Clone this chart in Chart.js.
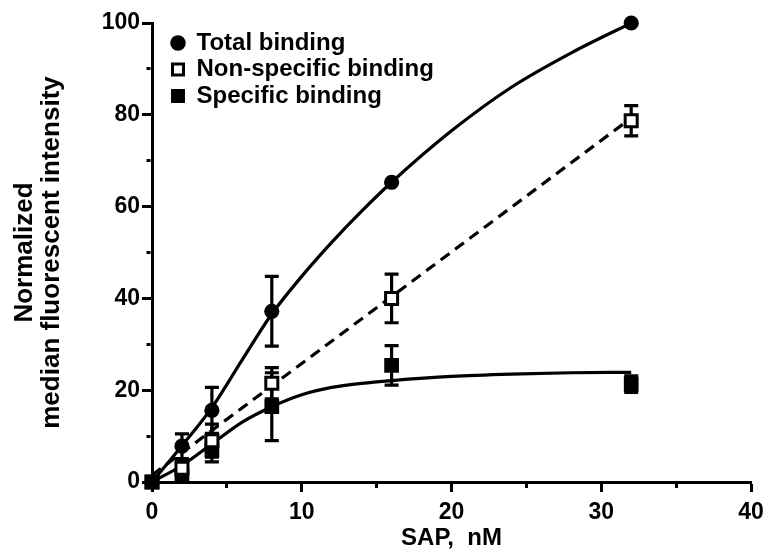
<!DOCTYPE html>
<html>
<head>
<meta charset="utf-8">
<script src="https://cdn.jsdelivr.net/npm/chart.js@4.4.1/dist/chart.umd.min.js"></script>
<style>
  html, body { margin: 0; padding: 0; background: #fff; }
  #wrap { width: 765px; height: 553px; }
</style>
</head>
<body>
<div id="wrap"><canvas id="bindingChart" width="765" height="553"></canvas></div>
<script>
// SAP concentration (nM)
const sapConc = [0, 2, 4, 8, 16, 32];

// measured points (normalized MFI) and their error bars
const totalBinding = [0, 7.8, 15.6, 37.2, 65.3, 100];
const totalErr     = [0, 2.7, 5.0, 7.6, 0, 0];
const nonSpecific  = [0, 3.0, 9.0, 21.5, 40.0, 78.7];
const nonSpecErr   = [0, 1.5, 3.6, 3.4, 5.3, 3.3];
const specific     = [0, 1.5, 7.0, 16.4, 25.4, 21.3];
const specificErr  = [0, 1.0, 2.6, 7.4, 4.3, 1.8];

// fitted curves
const fitX        = [0, 2, 4, 6, 8, 10, 12, 14, 16, 20, 24, 28, 32];
const totalFit    = [0, 7.9, 16.2, 26.5, 36.6, 44.8, 52.2, 59.0, 65.3, 76.5, 86.0, 93.5, 100];
const specificFit = [0, 3.6, 8.3, 13.0, 16.4, 19.0, 20.6, 21.5, 22.1, 23.0, 23.5, 23.8, 23.9];
const nonSpecFitX = [0, 32];
const nonSpecFit  = [1.5, 79.3];

const seriesNames = ['Total binding', 'Non-specific binding', 'Specific binding'];
const xTicks = [0, 10, 20, 30, 40];
const yTicks = [0, 20, 40, 60, 80, 100];

const toPoints = (xs, ys) => xs.map((x, i) => ({x: x, y: ys[i]}));

Chart.defaults.font.family = "'Liberation Sans', Arial, sans-serif";
Chart.defaults.font.weight = 'bold';
Chart.defaults.color = '#000';

// error bars, drawn under the markers
const errorBars = {
    id: 'errorBars',
    beforeDatasetsDraw(chart) {
        const ctx = chart.ctx;
        const xs = chart.scales.x, ys = chart.scales.y;
        ctx.save();
        ctx.strokeStyle = '#000';
        ctx.lineWidth = 3.2;
        chart.data.datasets.forEach(ds => {
            if (!ds.errors) return;
            ds.data.forEach((p, i) => {
                const e = ds.errors[i];
                if (!e) return;
                const x = xs.getPixelForValue(p.x);
                const top = ys.getPixelForValue(p.y + e);
                const bot = ys.getPixelForValue(p.y - e);
                ctx.beginPath();
                ctx.moveTo(x, top); ctx.lineTo(x, bot);
                ctx.moveTo(x - 7, top); ctx.lineTo(x + 7, top);
                ctx.moveTo(x - 7, bot); ctx.lineTo(x + 7, bot);
                ctx.stroke();
            });
        });
        ctx.restore();
    }
};

// move the legend into the upper left corner of the plot
const legendSpot = {
    id: 'legendSpot',
    afterLayout(chart) {
        chart.legend.left = chart.chartArea.left + 17;
        chart.legend.top = chart.chartArea.top + 5.5;
    }
};

const pointSet = (label, ys, errs, style, fill, radius) => ({
    label: label,
    data: toPoints(sapConc, ys),
    errors: errs,
    showLine: false,
    pointStyle: style,
    pointRadius: radius,
    pointHoverRadius: radius,
    pointBackgroundColor: fill,
    backgroundColor: fill,
    pointBorderColor: '#000',
    borderColor: '#000',
    pointBorderWidth: style === 'circle' ? 0 : 3,
    borderWidth: style === 'circle' ? 0 : 3,
    clip: false
});

const curveSet = (xs, ys, dash) => ({
    data: toPoints(xs, ys),
    showLine: true,
    borderColor: '#000',
    borderWidth: 3.2,
    borderDash: dash,
    pointRadius: 0,
    cubicInterpolationMode: 'monotone',
    fill: false
});

new Chart(document.getElementById('bindingChart'), {
    type: 'scatter',
    data: {
        datasets: [
            pointSet(seriesNames[0], totalBinding, totalErr, 'circle', '#000', 7.6),
            pointSet(seriesNames[1], nonSpecific, nonSpecErr, 'rect', '#fff', 8.5),
            pointSet(seriesNames[2], specific, specificErr, 'rect', '#000', 8.3),
            curveSet(fitX, totalFit, []),
            curveSet(nonSpecFitX, nonSpecFit, [11, 7]),
            curveSet(fitX, specificFit, [])
        ]
    },
    options: {
        responsive: false,
        animation: false,
        layout: { padding: { top: 23, right: 14, left: 0, bottom: 0 } },
        plugins: {
            tooltip: { enabled: false },
            legend: {
                position: 'chartArea',
                align: 'start',
                labels: {
                    usePointStyle: true,
                    boxWidth: 13,
                    boxHeight: 11,
                    padding: 2.5,
                    font: { size: 24, weight: 'bold' },
                    filter: item => item.datasetIndex < 3
                }
            }
        },
        scales: {
            x: {
                type: 'linear',
                min: 0,
                max: 40,
                ticks: {
                    stepSize: 5,
                    autoSkip: false,
                    maxRotation: 0,
                    padding: 7,
                    font: { size: 23 },
                    callback: v => xTicks.includes(v) ? v : ''
                },
                grid: {
                    drawOnChartArea: false,
                    tickLength: 10,
                    tickWidth: 3,
                    tickColor: '#000',
                    tickBorderDash: c => (c.tick && !xTicks.includes(c.tick.value)) ? [4, 100] : []
                },
                border: { color: '#000', width: 3 },
                title: {
                    display: true,
                    text: 'SAP,  nM',
                    font: { size: 24, weight: 'bold' },
                    padding: { top: 0, bottom: 0 }
                },
                afterFit: s => { s.height = 71; s.paddingLeft = 0; s.paddingRight = 0; }
            },
            y: {
                min: 0,
                max: 100,
                ticks: {
                    stepSize: 10,
                    autoSkip: false,
                    padding: 2,
                    font: { size: 23 },
                    callback: v => yTicks.includes(v) ? v : ''
                },
                grid: {
                    drawOnChartArea: false,
                    tickLength: 10,
                    tickWidth: 3,
                    tickColor: '#000',
                    tickBorderDash: c => (c.tick && !yTicks.includes(c.tick.value)) ? [0, 4.5, 4, 100] : []
                },
                border: { color: '#000', width: 3 },
                title: {
                    display: true,
                    text: ['Normalized', 'median fluorescent intensity'],
                    font: { size: 26, weight: 'bold', lineHeight: 1.04 },
                    padding: { top: 11.5, bottom: 0 }
                },
                afterFit: s => { s.width = 152; s.paddingTop = 0; s.paddingBottom = 0; }
            }
        }
    },
    plugins: [errorBars, legendSpot]
});
</script>
</body>
</html>
